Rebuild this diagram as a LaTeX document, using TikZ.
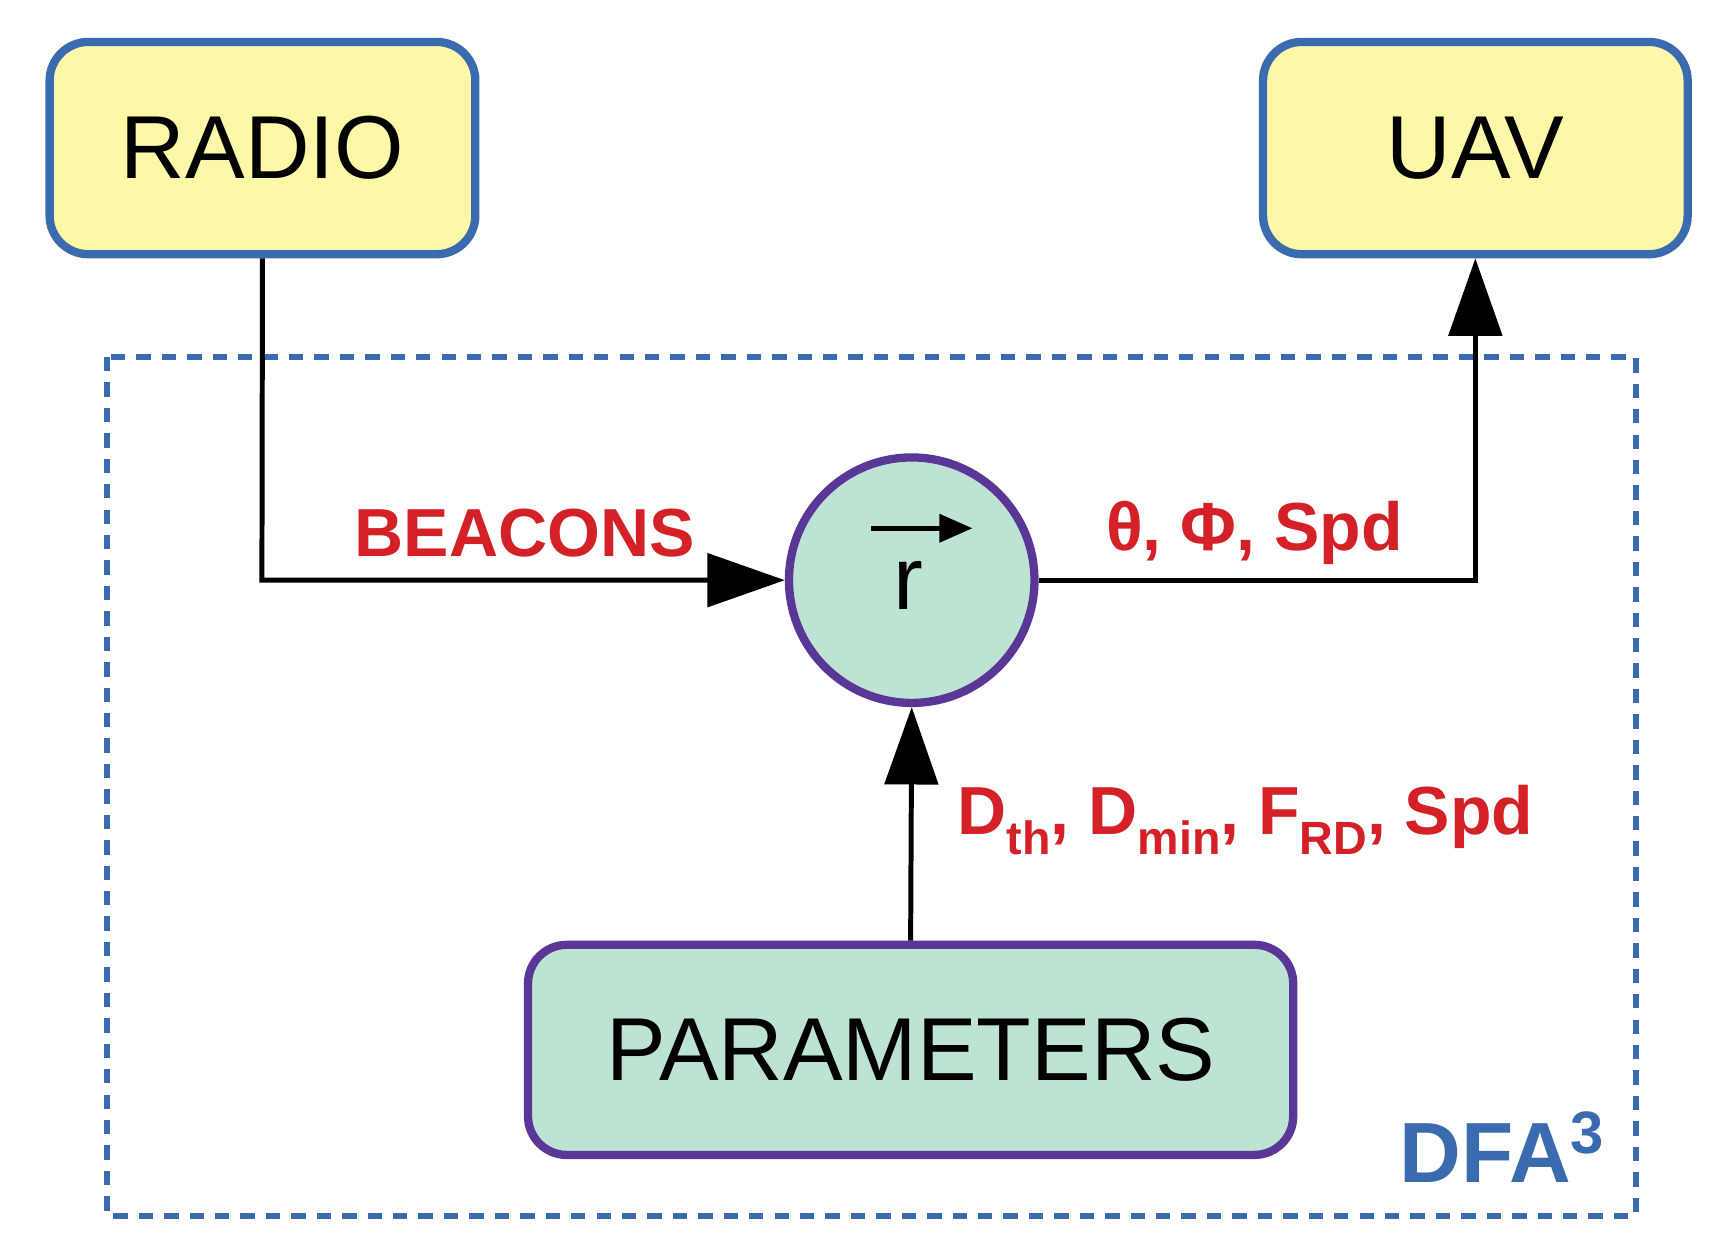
\documentclass[tikz,border=0pt]{standalone}
\usepackage{fontspec}
\setmainfont{Liberation Sans}
\usetikzlibrary{arrows.meta}
\definecolor{bblue}{HTML}{3A6BAE}
\definecolor{yfill}{HTML}{FDF7A8}
\definecolor{gfill}{HTML}{BDE3D3}
\definecolor{purp}{HTML}{5A3696}
\definecolor{lred}{HTML}{D42027}
\newcommand{\lsub}[1]{\raisebox{-0.55ex}{\fontsize{12pt}{14pt}\selectfont #1}}
\begin{document}
\begin{tikzpicture}[x=0.01cm,y=-0.01cm,
  box/.style={draw=bblue,line width=0.075cm,fill=yfill,rounded corners=0.35cm,inner sep=0pt},
  gbox/.style={draw=purp,line width=0.075cm,fill=gfill,rounded corners=0.35cm,inner sep=0pt},
  big/.style={font=\fontsize{23pt}{28pt}\selectfont},
  lab/.style={text=lred,font=\fontsize{17.5pt}{20pt}\selectfont\bfseries},
  arr/.style={line width=0.045cm,-{Triangle[length=0.7cm,width=0.48cm]}}]
\useasboundingbox (0,0) rectangle (1560,1119);
\draw[bblue,line width=0.055cm,dash pattern=on 0.13cm off 0.1cm] (97,323) rectangle (1480,1100);
\node[box,big,minimum width=3.85cm,minimum height=1.92cm] (radio) at (237.5,134) {RADIO};
\node[box,big,minimum width=3.84cm,minimum height=1.92cm] (uav) at (1335,134) {UAV};
\node[circle,draw=purp,line width=0.075cm,fill=gfill,minimum size=2.22cm,inner sep=0pt] (r) at (825,525) {};
\node[font=\fontsize{23pt}{28pt}\selectfont] at (822,530) {r};
\draw[line width=0.045cm,-{Triangle[length=0.3cm,width=0.25cm]}] (788,478) -- (880,478);
\node[gbox,big,minimum width=6.92cm,minimum height=1.9cm] (par) at (824,950) {PARAMETERS};
\coordinate (c1) at (237,525);
\coordinate (c2) at (1335,525);
\draw[arr] (radio.south) -- (c1) -- (r.west);
\draw[arr] (r.east) -- (c2) -- (uav.south);
\draw[arr] (par.north) -- (r.south);
\node[lab] at (475,482) {BEACONS};
\node[lab] at (1135,482) {θ, Φ, Spd};
\node[lab] at (1127,742) {D\lsub{th}, D\lsub{min}, F\lsub{RD}, Spd};
\node[text=bblue,font=\fontsize{22pt}{26pt}\selectfont\bfseries] at (1360,1038) {DFA\textsuperscript{3}};
\end{tikzpicture}
\end{document}
